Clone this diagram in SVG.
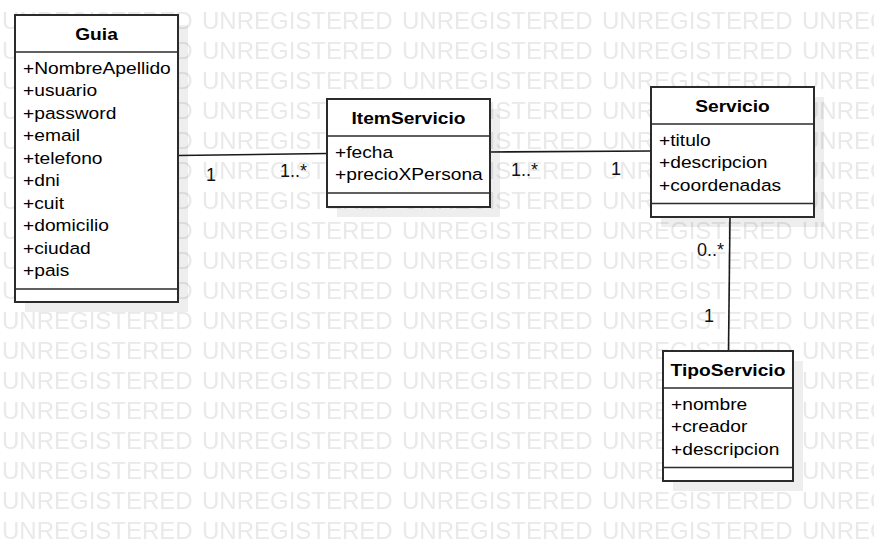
<svg xmlns="http://www.w3.org/2000/svg" width="874" height="541" viewBox="0 0 874 541">
<style>
.wm{font-family:"Liberation Sans",Arial,sans-serif;font-size:24px;fill:#e9e9e9}
.box{fill:#fff;stroke:#2b2b2b;stroke-width:2}
.shadow{fill:#000;fill-opacity:0.065}
.sep{stroke:#2b2b2b;stroke-width:1.6}
.title{font-family:"Liberation Sans",Arial,sans-serif;font-size:17px;font-weight:bold;fill:#000;text-anchor:middle}
.attr{font-family:"Liberation Sans",Arial,sans-serif;font-size:17px;fill:#000}
.lbl{font-family:"Liberation Sans",Arial,sans-serif;font-size:18px;fill:#111}
.conn{stroke:#1a1a1a;stroke-width:1.6;fill:none}
</style>
<defs>
<pattern id="wmp" x="0" y="0" width="200" height="30" patternUnits="userSpaceOnUse">
<text class="wm" x="2" y="29">UNREGISTERED</text>
</pattern>
</defs>
<rect width="874" height="541" fill="#fff"/>
<rect width="874" height="541" fill="url(#wmp)"/>

<g id="shadows">
<rect class="shadow" x="25" y="25" width="163" height="287"/>
<rect class="shadow" x="337" y="109" width="163" height="108"/>
<rect class="shadow" x="661" y="97" width="163" height="130"/>
<rect class="shadow" x="673" y="361" width="130" height="130"/>
</g>

<g id="connectors">
<line class="conn" x1="178" y1="155.5" x2="327" y2="153.5"/>
<line class="conn" x1="490" y1="152" x2="651" y2="151"/>
<line class="conn" x1="730" y1="217" x2="728.5" y2="351"/>
<text class="lbl" x="206" y="181">1</text>
<text class="lbl" x="280" y="177">1..*</text>
<text class="lbl" x="511" y="176">1..*</text>
<text class="lbl" x="611" y="175">1</text>
<text class="lbl" x="697" y="256">0..*</text>
<text class="lbl" x="704" y="322">1</text>
</g>

<g id="Guia">
<rect class="box" x="15" y="15" width="163" height="287"/>
<line class="sep" x1="15" y1="52" x2="178" y2="52"/>
<line class="sep" x1="15" y1="289" x2="178" y2="289"/>
<g transform="translate(96.5 0) scale(1.13 1)"><text class="title" x="0" y="40">Guia</text></g>
<g transform="translate(23 0) scale(1.13 1)">
<text class="attr" x="0" y="74">+NombreApellido</text>
<text class="attr" x="0" y="96.5">+usuario</text>
<text class="attr" x="0" y="119">+password</text>
<text class="attr" x="0" y="141.5">+email</text>
<text class="attr" x="0" y="164">+telefono</text>
<text class="attr" x="0" y="186.5">+dni</text>
<text class="attr" x="0" y="209">+cuit</text>
<text class="attr" x="0" y="231.5">+domicilio</text>
<text class="attr" x="0" y="254">+ciudad</text>
<text class="attr" x="0" y="276.5">+pais</text>
</g>
</g>

<g id="ItemServicio">
<rect class="box" x="327" y="99" width="163" height="108"/>
<line class="sep" x1="327" y1="136" x2="490" y2="136"/>
<line class="sep" x1="327" y1="193" x2="490" y2="193"/>
<g transform="translate(408.5 0) scale(1.13 1)"><text class="title" x="0" y="124">ItemServicio</text></g>
<g transform="translate(335 0) scale(1.13 1)">
<text class="attr" x="0" y="158">+fecha</text>
<text class="attr" x="0" y="180.5">+precioXPersona</text>
</g>
</g>

<g id="Servicio">
<rect class="box" x="651" y="87" width="163" height="130"/>
<line class="sep" x1="651" y1="124" x2="814" y2="124"/>
<line class="sep" x1="651" y1="203.5" x2="814" y2="203.5"/>
<g transform="translate(732.5 0) scale(1.13 1)"><text class="title" x="0" y="112">Servicio</text></g>
<g transform="translate(659 0) scale(1.13 1)">
<text class="attr" x="0" y="146">+titulo</text>
<text class="attr" x="0" y="168.5">+descripcion</text>
<text class="attr" x="0" y="191">+coordenadas</text>
</g>
</g>

<g id="TipoServicio">
<rect class="box" x="663" y="351" width="130" height="130"/>
<line class="sep" x1="663" y1="388" x2="793" y2="388"/>
<line class="sep" x1="663" y1="467.5" x2="793" y2="467.5"/>
<g transform="translate(728 0) scale(1.13 1)"><text class="title" x="0" y="376">TipoServicio</text></g>
<g transform="translate(671 0) scale(1.13 1)">
<text class="attr" x="0" y="410">+nombre</text>
<text class="attr" x="0" y="432.5">+creador</text>
<text class="attr" x="0" y="455">+descripcion</text>
</g>
</g>
</svg>
